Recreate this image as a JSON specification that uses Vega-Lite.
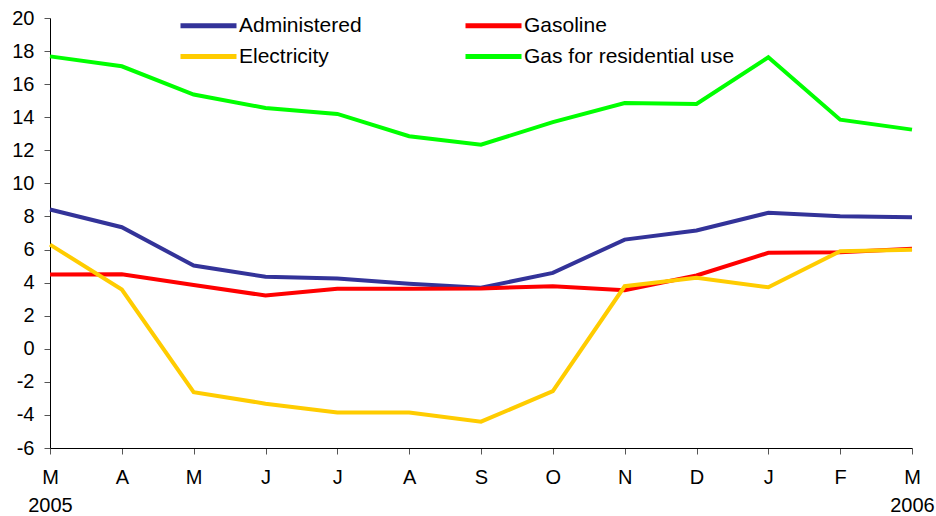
{
  "$schema": "https://vega.github.io/schema/vega-lite/v6.json",
  "autosize": "none",
  "width": 862,
  "height": 430,
  "padding": {"left": 50, "top": 18, "right": 24, "bottom": 68},
  "background": "white",
  "config": {
    "font": "Liberation Sans",
    "view": {"stroke": null},
    "axis": {"grid": false, "domainColor": "#000", "tickColor": "#555", "labelColor": "#000", "labelFontSize": 20, "labelFont": "Liberation Sans", "tickSize": 6, "title": null}
  },
  "data": {"values": [
    {"month": "Mar 2005", "series": "Administered", "value": 8.42},
    {"month": "Apr 2005", "series": "Administered", "value": 7.35},
    {"month": "May 2005", "series": "Administered", "value": 5.03},
    {"month": "Jun 2005", "series": "Administered", "value": 4.35},
    {"month": "Jul 2005", "series": "Administered", "value": 4.25},
    {"month": "Aug 2005", "series": "Administered", "value": 3.93},
    {"month": "Sep 2005", "series": "Administered", "value": 3.69},
    {"month": "Oct 2005", "series": "Administered", "value": 4.59},
    {"month": "Nov 2005", "series": "Administered", "value": 6.6},
    {"month": "Dec 2005", "series": "Administered", "value": 7.15},
    {"month": "Jan 2006", "series": "Administered", "value": 8.22},
    {"month": "Feb 2006", "series": "Administered", "value": 8.01},
    {"month": "Mar 2006", "series": "Administered", "value": 7.95},
    {"month": "Mar 2005", "series": "Gasoline", "value": 4.49},
    {"month": "Apr 2005", "series": "Gasoline", "value": 4.5},
    {"month": "May 2005", "series": "Gasoline", "value": 3.85},
    {"month": "Jun 2005", "series": "Gasoline", "value": 3.22},
    {"month": "Jul 2005", "series": "Gasoline", "value": 3.63},
    {"month": "Aug 2005", "series": "Gasoline", "value": 3.63},
    {"month": "Sep 2005", "series": "Gasoline", "value": 3.65},
    {"month": "Oct 2005", "series": "Gasoline", "value": 3.78},
    {"month": "Nov 2005", "series": "Gasoline", "value": 3.54},
    {"month": "Dec 2005", "series": "Gasoline", "value": 4.43},
    {"month": "Jan 2006", "series": "Gasoline", "value": 5.8},
    {"month": "Feb 2006", "series": "Gasoline", "value": 5.84},
    {"month": "Mar 2006", "series": "Gasoline", "value": 6.05},
    {"month": "Mar 2005", "series": "Electricity", "value": 6.3},
    {"month": "Apr 2005", "series": "Electricity", "value": 3.58},
    {"month": "May 2005", "series": "Electricity", "value": -2.62},
    {"month": "Jun 2005", "series": "Electricity", "value": -3.32},
    {"month": "Jul 2005", "series": "Electricity", "value": -3.85},
    {"month": "Aug 2005", "series": "Electricity", "value": -3.85},
    {"month": "Sep 2005", "series": "Electricity", "value": -4.41},
    {"month": "Oct 2005", "series": "Electricity", "value": -2.56},
    {"month": "Nov 2005", "series": "Electricity", "value": 3.78},
    {"month": "Dec 2005", "series": "Electricity", "value": 4.29},
    {"month": "Jan 2006", "series": "Electricity", "value": 3.72},
    {"month": "Feb 2006", "series": "Electricity", "value": 5.9},
    {"month": "Mar 2006", "series": "Electricity", "value": 5.98},
    {"month": "Mar 2005", "series": "Gas for residential use", "value": 17.68},
    {"month": "Apr 2005", "series": "Gas for residential use", "value": 17.08},
    {"month": "May 2005", "series": "Gas for residential use", "value": 15.37},
    {"month": "Jun 2005", "series": "Gas for residential use", "value": 14.56},
    {"month": "Jul 2005", "series": "Gas for residential use", "value": 14.2},
    {"month": "Aug 2005", "series": "Gas for residential use", "value": 12.85},
    {"month": "Sep 2005", "series": "Gas for residential use", "value": 12.34},
    {"month": "Oct 2005", "series": "Gas for residential use", "value": 13.7},
    {"month": "Nov 2005", "series": "Gas for residential use", "value": 14.86},
    {"month": "Dec 2005", "series": "Gas for residential use", "value": 14.8},
    {"month": "Jan 2006", "series": "Gas for residential use", "value": 17.62},
    {"month": "Feb 2006", "series": "Gas for residential use", "value": 13.85},
    {"month": "Mar 2006", "series": "Gas for residential use", "value": 13.25}
  ]},
  "mark": {"type": "line", "strokeWidth": 4},
  "encoding": {
    "x": {
      "field": "month", "type": "ordinal", "sort": null,
      "scale": {"type": "point", "padding": 0},
      "axis": {
        "labelAngle": 0, "labelPadding": 13,
        "labelExpr": "datum.value == 'Mar 2005' ? ['M', '2005'] : datum.value == 'Mar 2006' ? ['M', '2006'] : substring(datum.value, 0, 1)",
        "labelLineHeight": 28
      }
    },
    "y": {
      "field": "value", "type": "quantitative",
      "scale": {"domain": [-6, 20], "nice": false, "zero": false},
      "axis": {"values": [-6, -4, -2, 0, 2, 4, 6, 8, 10, 12, 14, 16, 18, 20], "labelPadding": 10, "labelExpr": "replace(datum.label, '\u2212', '-')"}
    },
    "color": {
      "field": "series", "type": "nominal",
      "scale": {"domain": ["Administered", "Gasoline", "Electricity", "Gas for residential use"], "range": ["#333399", "#FF0000", "#FFCC00", "#00FF00"]},
      "legend": {
        "title": null, "orient": "none", "legendX": 148, "legendY": -3, "columns": 2, "direction": "horizontal",
        "symbolType": "M-5.6,0H5.6", "symbolSize": 100, "symbolStrokeWidth": 5,
        "labelFontSize": 21, "labelFont": "Liberation Sans", "labelColor": "#000", "labelLimit": 400,
        "labelOffset": 20, "rowPadding": 9, "columnPadding": 5, "gridAlign": "all"
      }
    }
  }
}
